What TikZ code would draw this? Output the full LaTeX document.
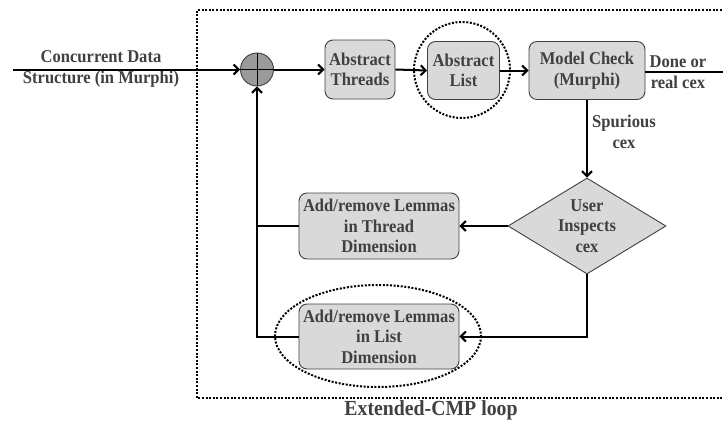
\documentclass[tikz,border=0pt]{standalone}
\usepackage{fontspec}
\setmainfont{Liberation Serif}
\newfontfamily\labelfont[FakeStretch=0.92]{Liberation Serif}
\usetikzlibrary{arrows.meta,shapes.geometric}

\definecolor{boxfill}{HTML}{D9D9D9}
\definecolor{boxline}{HTML}{404040}
\definecolor{txtgray}{HTML}{404040}
\definecolor{sumfill}{HTML}{9A9A9A}

\tikzset{
  txt/.style={font=\labelfont\fontsize{18}{20.5}\selectfont\bfseries, text=txtgray, align=center, inner sep=0pt},
  procbox/.style={txt, draw=boxline, line width=0.9pt, fill=boxfill, rounded corners=8pt},
  decision/.style={diamond, draw=boxline, line width=0.9pt, fill=boxfill, inner sep=0pt},
  flow/.style={line width=2pt, draw=black},
  arr/.style={flow, -{Straight Barb[length=5pt,width=10pt,line width=2pt]}},
  dotline/.style={line width=2pt, draw=black, dash pattern=on 2pt off 1.6pt},
}

\begin{document}
\begin{tikzpicture}[x=1pt,y=-1pt]
  \useasboundingbox (0,0) rectangle (723,423);

  % loop frame (runs off the right edge)
  \draw[dotline] (740,10) -- (197,10) -- (197,398) -- (740,398);
  \node[txt, font=\labelfont\fontsize{21.5}{24}\selectfont\bfseries] (title) at (431,410) {Extended-CMP loop};

  % summing junction
  \node[circle, draw=boxline, line width=0.9pt, fill=sumfill, minimum size=33pt, inner sep=0pt] (sum) at (257,69.5) {};
  \draw[line width=0.9pt] (sum.north) -- (sum.south) (sum.west) -- (sum.east);

  % top row
  \node[procbox, minimum width=70pt, minimum height=59pt] (at) at (360,69.5) {Abstract\\Threads};
  \node[procbox, minimum width=72pt, minimum height=58pt] (al) at (463.5,70.5) {Abstract\\List};
  \node[procbox, minimum width=116pt, minimum height=58pt] (mc) at (587,70.5) {Model Check\\(Murphi)};

  % highlight around the list abstraction
  \draw[dotline] (462,70) circle [radius=48];

  % decision and refinement boxes
  \node[decision, minimum width=158pt, minimum height=96pt] (ui) at (587,226) {};
  \node[txt] (uitext) at (ui.center) {User\\Inspects\\cex};
  \node[procbox, minimum width=160pt, minimum height=66pt] (tl) at (379,226) {Add/remove Lemmas\\in Thread\\Dimension};
  \node[procbox, minimum width=160pt, minimum height=65pt] (ll) at (379,336.5) {Add/remove Lemmas\\in List\\Dimension};
  \draw[dotline] (378,336) ellipse [x radius=103, y radius=51];

  % input
  \coordinate (in) at (13,69.5);
  \node[txt] (intext) at (101,69) {Concurrent Data\\[1pt]Structure (in Murphi)};
  \draw[arr] (in) -- (sum.west);

  % main flow
  \draw[arr] (sum.east) -- (at.west);
  \draw[arr] (at.east) -- (al.west);
  \draw[arr] (al.east) -- (mc.west);

  \coordinate (out) at (723,72);
  \draw[flow] (mc.east |- out) -- (out);
  \node[txt] (donetext) at (678,72) {Done or\\[1pt]real cex};

  \draw[arr] (mc.south) -- (ui.north);
  \node[txt] (spur) at (624,132) {Spurious\\cex};

  \draw[arr] (ui.west) -- (tl.east);
  \draw[arr] (ui.south) |- (ll.east);

  % feedback into the junction
  \draw[arr] (ll.west) -| (sum.south);
  \draw[flow] (tl.west) -- (tl.west -| sum.south);
\end{tikzpicture}
\end{document}
